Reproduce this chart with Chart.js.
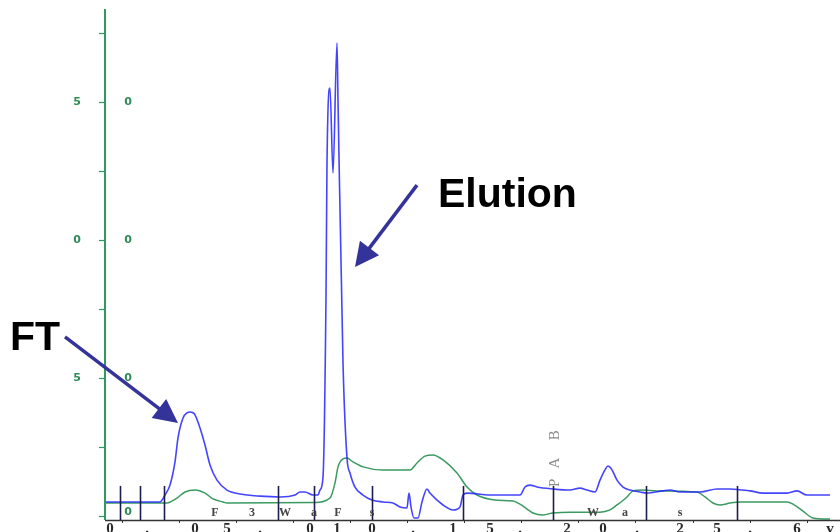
<!DOCTYPE html>
<html><head><meta charset="utf-8">
<script src="https://cdn.jsdelivr.net/npm/chart.js@4.4.1/dist/chart.umd.min.js"></script>
<style>html,body{margin:0;padding:0;background:#fff}#wrap{width:840px;height:532px;position:relative}</style>
</head><body><div id="wrap"><canvas id="c" width="840" height="532"></canvas></div>
<script>
// UV absorbance trace (blue)
const uvX = [0,5.5,6.0,6.5,7.0,7.3,7.8,8.2,8.5,8.8,9.0,9.5,10.0,10.5,11.2,12.2,13.5,15.5,17.5,19.0,19.5,20.0,20.8,21.3,21.5,21.8,22.1,22.2,22.5,22.8,23.2,23.3,23.8,24.2,24.5,25.0,25.8,26.7,27.8,28.8,29.5,30.2,30.4,30.6,30.9,31.3,31.7,32.2,32.5,33.2,33.8,34.8,35.5,35.8,36.2,38.5,41.5,42.0,42.5,43.2,44.8,46.5,47.5,48.2,49.0,49.5,50.0,50.3,50.7,51.2,51.8,52.5,53.5,54.2,55.8,56.5,57.5,59.5,61.2,62.5,64.5,65.8,68.2,69.2,70.2,72.5];
const uvY = [5.07,5.07,7.6,11.2,19.6,28.3,35.5,37.4,37.7,37.4,36.6,31.9,25.7,18.5,13.0,9.4,8.0,7.2,6.9,7.6,8.7,8.7,7.6,7.6,9.4,14.1,79.4,127.9,155.1,124.3,171.4,150.7,55.4,21.0,15.6,10.5,7.6,5.8,5.1,4.7,3.3,2.9,8.3,3.3,-0.7,-0.7,5.1,9.8,8.3,5.8,4.0,2.2,3.3,7.6,8.3,7.6,7.6,10.5,11.2,10.5,9.8,9.4,10.1,9.4,8.7,13.0,16.7,18.1,16.7,13.0,10.5,9.4,8.7,8.3,9.1,9.4,8.7,8.7,9.8,9.8,9.1,8.3,8.3,9.1,7.6,7.6];
// conductivity trace (green)
const condX = [0,6.2,7.2,8.0,9.0,10.0,10.8,11.8,12.2,21.0,22.5,23.0,23.3,23.8,24.2,24.8,25.8,27.8,30.5,31.2,32.0,32.8,33.8,35.2,36.2,37.2,39.0,40.8,41.5,42.8,43.8,44.8,46.5,49.5,50.5,51.2,52.2,52.8,53.8,55.2,59.2,60.0,60.8,61.5,62.5,63.5,68.2,68.8,69.8,70.8,72.5];
const condY = [4.7,4.7,6.5,8.7,9.4,8.3,6.2,5.1,4.7,4.9,6.5,12.0,17.8,20.7,21.0,19.6,17.8,16.7,16.7,19.2,21.7,22.1,20.3,15.6,10.5,7.6,5.8,5.4,4.3,1.1,0.4,1.1,1.4,1.4,2.2,4.0,6.9,9.1,9.4,9.1,8.7,6.9,4.7,4.0,4.7,5.1,5.1,4.3,1.8,-0.7,-1.1];
// axis ticks and labels
const yTickValues = [0,25,50,75,100,125,150,175];
const yLabelValues = [150,100,50,0];
const yLabelLeft = ['5','0','5',''];
const yLabelRight = ['0','0','0','0'];
const xTickValues = [1.7,7.4,13.1,18.8,24.5,30.2,35.9,41.6,47.3,53.0,58.8,64.5,70.2];
const xLabelPos = [0.5,4.2,9.0,12.2,15.5,20.5,23.2,26.7,30.8,34.8,38.5,41.5,46.2,49.8,53.2,57.5,61.2,64.5,69.2,72.5];
const xLabelText = ['0','.','0','5','.','0','1','0','.','1','5','.','2','0','.','2','5','.','6','v'];
// fraction markers and labels
const fractionMarks = [1.5,3.5,5.9,17.3,20.9,26.7,35.8,44.8,54.1,63.2];
const fractionLabelPos = [11.0,14.7,18.0,20.9,23.3,26.7,48.8,52.0,57.5];
const fractionLabelText = ['F','3','W','a','F','s','W','a','s'];
const markTopValue = 10.9;
const fractionLabelValue = 1.1;
// rotated side text
const sideText = ['P','A','B'];
const sideTextValues = [12.0,19.2,29.3];
const sideTextX = 45.0;
// annotations
const annotations = [
  {text:'FT', x:-9.5, y:60.1, fromX:-4.0, fromY:64.9, toX:7.3, toY:33.7},
  {text:'Elution', x:33.3, y:112.0, fromX:31.2, fromY:119.9, toX:25.0, toY:90.2}
];

const toXY = (xs, ys) => xs.map((v,i)=>({x:v, y:ys[i]}));

const overlay = {
  id:'overlay',
  afterDatasetsDraw(chart){
    const {ctx, chartArea:a, scales} = chart;
    const X = scales.x, Y = scales.y;
    ctx.save();
    // x axis line + ticks
    ctx.strokeStyle = '#333';
    ctx.lineWidth = 1.3;
    ctx.beginPath(); ctx.moveTo(a.left, a.bottom+0.5); ctx.lineTo(a.right, a.bottom+0.5); ctx.stroke();
    ctx.lineWidth = 1;
    xTickValues.forEach(v=>{
      const px = Math.round(X.getPixelForValue(v))+0.5;
      ctx.beginPath(); ctx.moveTo(px, a.bottom); ctx.lineTo(px, a.bottom+3); ctx.stroke();
    });
    // x labels
    ctx.fillStyle = '#2a2a2a';
    ctx.font = 'bold 15px "Liberation Serif"';
    ctx.textAlign = 'center'; ctx.textBaseline = 'top';
    xLabelPos.forEach((v,i)=>{ ctx.fillText(xLabelText[i], X.getPixelForValue(v), a.bottom+2); });
    // fraction markers
    ctx.strokeStyle = '#1c1c4e';
    ctx.lineWidth = 1.6;
    fractionMarks.forEach(v=>{
      const px = Math.round(X.getPixelForValue(v))+0.5;
      ctx.beginPath(); ctx.moveTo(px, Y.getPixelForValue(markTopValue)); ctx.lineTo(px, a.bottom); ctx.stroke();
    });
    // fraction labels
    ctx.fillStyle = '#444';
    ctx.font = 'bold 12px "Liberation Serif"';
    ctx.textAlign = 'center'; ctx.textBaseline = 'middle';
    fractionLabelPos.forEach((v,i)=>{ ctx.fillText(fractionLabelText[i], X.getPixelForValue(v), Y.getPixelForValue(fractionLabelValue)); });
    // side text rotated
    ctx.fillStyle = '#8a8a8a';
    ctx.font = '15px "Liberation Serif"';
    sideText.forEach((t,i)=>{
      ctx.save();
      ctx.translate(X.getPixelForValue(sideTextX), Y.getPixelForValue(sideTextValues[i]));
      ctx.rotate(-Math.PI/2);
      ctx.fillText(t, 0, 0);
      ctx.restore();
    });
    // y axis (green)
    const x0 = Math.round(X.getPixelForValue(0));
    ctx.strokeStyle = '#2e9a5e';
    ctx.lineWidth = 2;
    ctx.beginPath(); ctx.moveTo(x0, a.top); ctx.lineTo(x0, a.bottom); ctx.stroke();
    ctx.lineWidth = 1.2;
    yTickValues.forEach(v=>{
      const py = Math.round(Y.getPixelForValue(v))+0.5;
      ctx.beginPath(); ctx.moveTo(x0-6, py); ctx.lineTo(x0, py); ctx.stroke();
    });
    ctx.fillStyle = '#2e8b57';
    ctx.font = 'bold 11px "DejaVu Sans"';
    ctx.textAlign = 'center'; ctx.textBaseline = 'middle';
    yLabelValues.forEach((v,i)=>{
      const py = Math.min(Y.getPixelForValue(v), a.bottom-8);
      ctx.fillText(yLabelLeft[i], x0-28, py);
      ctx.fillText(yLabelRight[i], x0+23, py);
    });
    // annotations
    ctx.font = 'bold 41px "Liberation Sans"';
    ctx.textAlign = 'left'; ctx.textBaseline = 'alphabetic';
    annotations.forEach(an=>{
      ctx.fillStyle = '#000';
      ctx.fillText(an.text, X.getPixelForValue(an.x), Y.getPixelForValue(an.y));
      const fx = X.getPixelForValue(an.fromX), fy = Y.getPixelForValue(an.fromY);
      const tx = X.getPixelForValue(an.toX), ty = Y.getPixelForValue(an.toY);
      const ang = Math.atan2(ty-fy, tx-fx);
      const hl = 24, hw = 12;
      const bx = tx - hl*Math.cos(ang), by = ty - hl*Math.sin(ang);
      ctx.strokeStyle = '#333399'; ctx.lineWidth = 3.5;
      ctx.beginPath(); ctx.moveTo(fx, fy); ctx.lineTo(bx+4*Math.cos(ang), by+4*Math.sin(ang)); ctx.stroke();
      ctx.fillStyle = '#333399';
      ctx.beginPath();
      ctx.moveTo(tx, ty);
      ctx.lineTo(bx + hw*Math.sin(ang), by - hw*Math.cos(ang));
      ctx.lineTo(bx - hw*Math.sin(ang), by + hw*Math.cos(ang));
      ctx.closePath(); ctx.fill();
    });
    ctx.restore();
  }
};

new Chart(document.getElementById('c'), {
  type:'line',
  data:{
    datasets:[
      {label:'UV', data:toXY(uvX, uvY), borderColor:'rgba(35,35,255,0.85)', borderWidth:1.6, pointRadius:0, cubicInterpolationMode:'monotone', fill:false},
      {label:'Cond', data:toXY(condX, condY), borderColor:'#3a9a60', borderWidth:1.5, pointRadius:0, cubicInterpolationMode:'monotone', fill:false}
    ]
  },
  options:{
    responsive:false, animation:false, devicePixelRatio:1,
    layout:{padding:{left:105, right:0, top:9, bottom:12}},
    plugins:{legend:{display:false}, tooltip:{enabled:false}},
    scales:{
      x:{type:'linear', min:0, max:73.5, display:false},
      y:{type:'linear', min:-1.45, max:183.7, display:false}
    }
  },
  plugins:[overlay]
});
</script></body></html>
